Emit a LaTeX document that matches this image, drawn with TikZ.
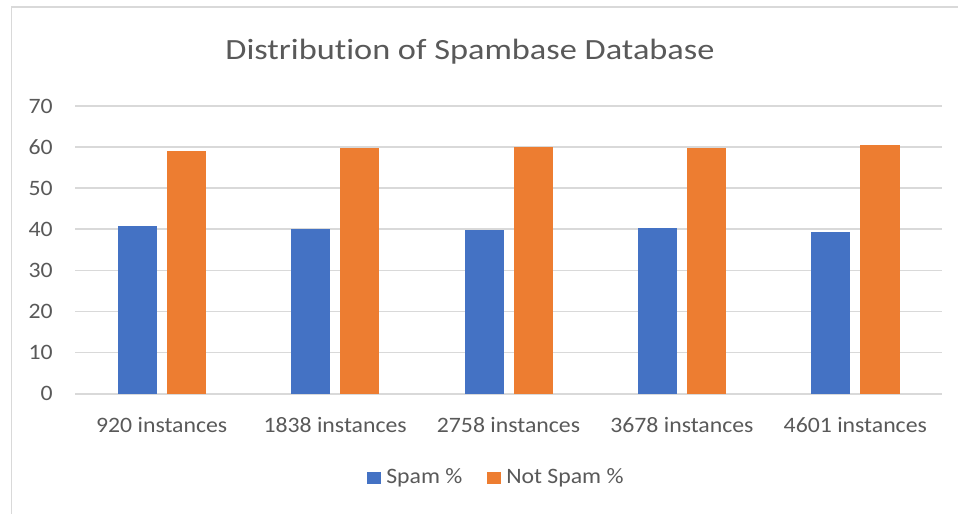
\documentclass[tikz,border=0pt]{standalone}
\usepackage{fontspec}
\setmainfont{Carlito}
\newfontfamily\labelfont{Carlito}[FakeStretch=1.08, Ligatures=CommonOff]
\newfontfamily\titlefont{Carlito}[FakeStretch=1.17, Ligatures=CommonOff]
\usepackage{tikz}

\definecolor{spamblue}{HTML}{4472C4}
\definecolor{notspamorange}{HTML}{ED7D31}
\definecolor{labelgray}{HTML}{595959}
\definecolor{gridgray}{HTML}{D9D9D9}

\begin{document}
\begin{tikzpicture}[x=0.75pt, y=0.75pt,
    gridline/.style={gridgray, line width=1.3pt},
    ticklabel/.style={text=labelgray, inner sep=0pt, font=\labelfont\fontsize{16.5}{19}\selectfont},
    spambar/.style={fill=spamblue},
    notspambar/.style={fill=notspamorange}]
        \useasboundingbox (0,0) rectangle (958,514);
        \draw [gridgray, line width=1pt] (11.5,0) -- (11.5,507) -- (958,507);
        % gridlines and y labels
        \foreach \v in {0,10,...,70} {
            \draw [gridline] (75,{120.3+4.11*\v}) -- (942,{120.3+4.11*\v});
            \node [ticklabel, anchor=east] (tick\v) at (53,{120.3+4.11*\v}) {\v};
        }
        % bars
        \foreach \i/\n/\s/\ns in {0/920/40.9/59.1, 1/1838/40.1/59.9, 2/2758/39.9/60.1,
                                   3/3678/40.3/59.7, 4/4601/39.4/60.6} {
            \pgfmathsetmacro{\c}{161.7+173.4*\i}
            \fill [spambar] (\c-44,120.3) rectangle (\c-5,{120.3+4.11*\s});
            \fill [notspambar] (\c+5,120.3) rectangle (\c+44.3,{120.3+4.11*\ns});
            \node [ticklabel] (cat\i) at (\c,89) {\n{} instances};
        }
        \node [text=labelgray, font=\titlefont\fontsize{22}{26}\selectfont] (title) at (470,462)
            {Distribution of Spambase Database};
        % legend
        \fill [spambar] (367.3,29.7) rectangle (380.7,42.3);
        \node [ticklabel, anchor=west] (spamkey) at (386,36) {Spam \%};
        \fill [notspambar] (487.3,29.7) rectangle (500.7,42.3);
        \node [ticklabel, anchor=west] (notspamkey) at (506,36) {Not Spam \%};
    \end{tikzpicture}
\end{document}
